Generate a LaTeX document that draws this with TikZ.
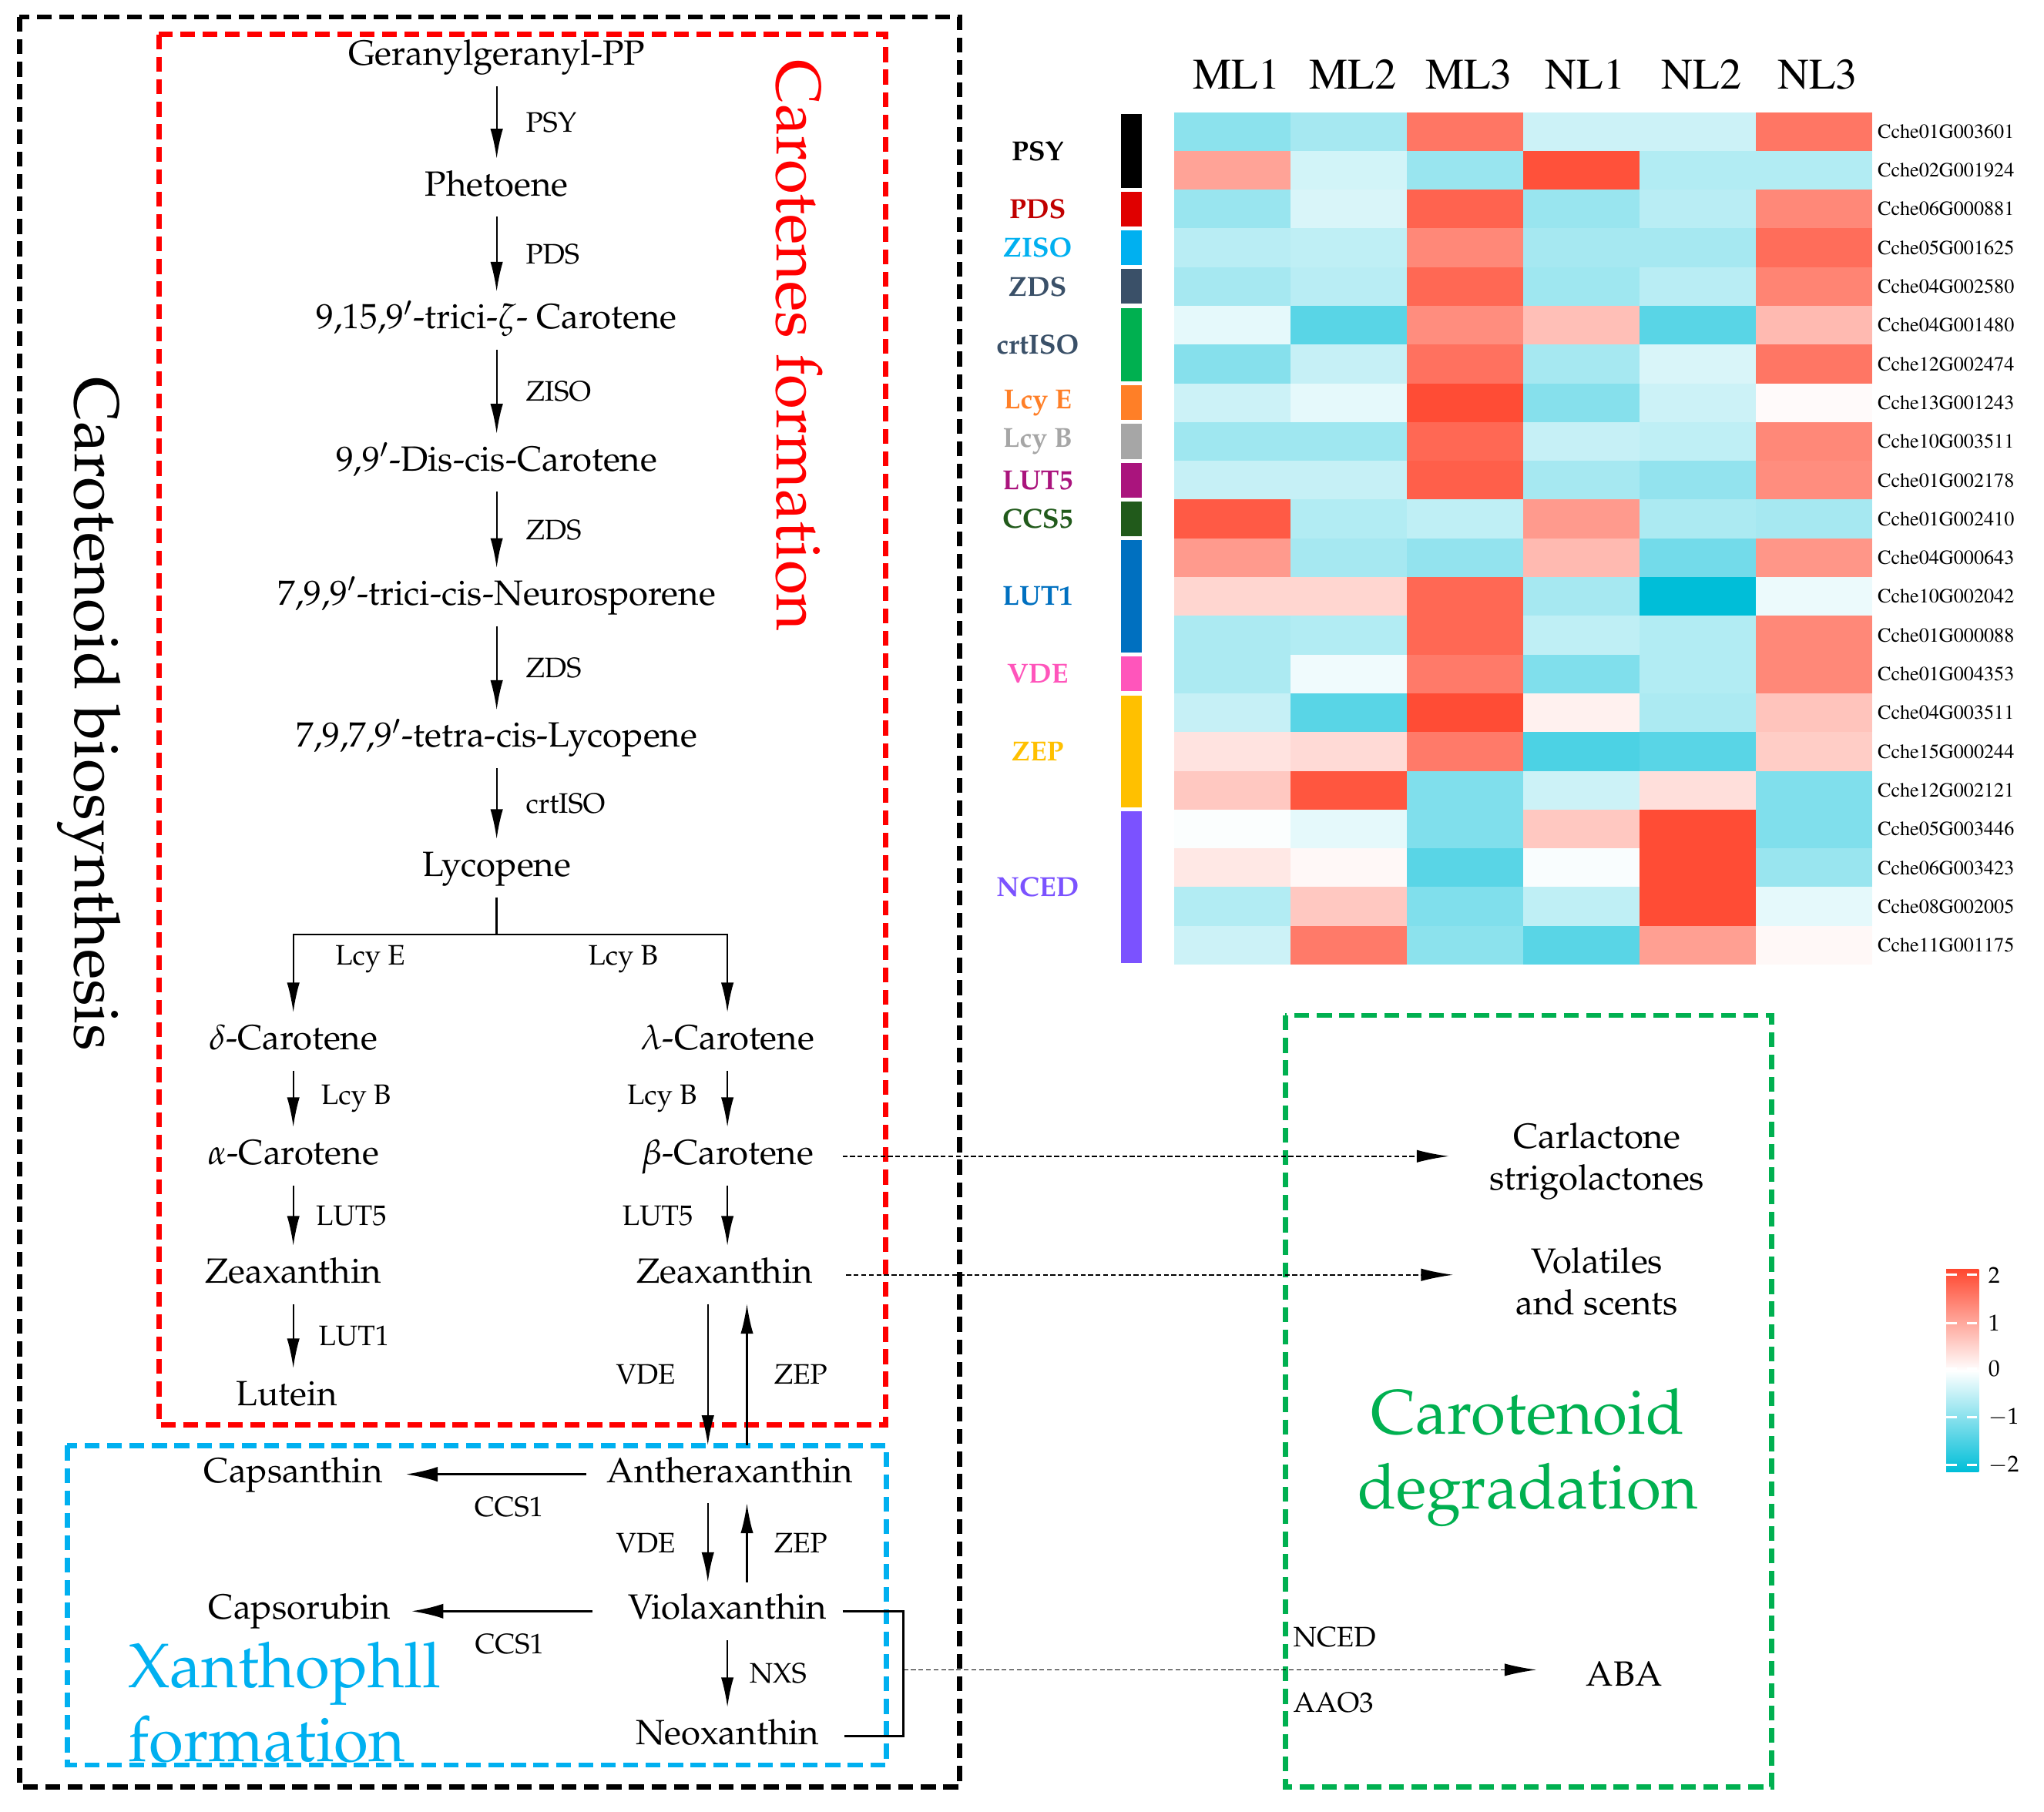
\documentclass[tikz,border=0pt]{standalone}
\usepackage[T1]{fontenc}
\usepackage{mathpazo}
\usetikzlibrary{arrows.meta,calc,positioning}

\definecolor{hmred}{RGB}{255,72,48}
\definecolor{hmcyan}{RGB}{0,190,216}
\definecolor{boxred}{RGB}{255,0,0}
\definecolor{boxcyan}{RGB}{0,176,240}
\definecolor{boxgreen}{RGB}{0,176,80}
\definecolor{pdsbar}{RGB}{224,0,0}
\definecolor{pdstxt}{RGB}{192,0,0}
\definecolor{zdsc}{RGB}{58,80,104}
\definecolor{lcyec}{RGB}{255,127,39}
\definecolor{lcybc}{RGB}{166,166,166}
\definecolor{lutfc}{RGB}{170,20,125}
\definecolor{ccsc}{RGB}{33,90,27}
\definecolor{lutoc}{RGB}{0,112,192}
\definecolor{vdec}{RGB}{255,85,187}
\definecolor{zepc}{RGB}{255,192,0}
\definecolor{ncedc}{RGB}{123,82,255}

% heatmap cell colour from a z-score
\newcommand\hmcolor[1]{%
  \pgfmathsetmacro\hmpct{min(100,abs(#1)*50)}%
  \pgfmathtruncatemacro\hmpos{(#1)>0}%
  \ifnum\hmpos=1 \colorlet{hmcur}{hmred!\hmpct!white}%
  \else \colorlet{hmcur}{hmcyan!\hmpct!white}\fi}

\begin{document}
\begin{tikzpicture}[x=0.2mm, y=-0.2mm,
  cmpd/.style={font=\fontsize{15.3}{18}\selectfont, text height=11pt, text depth=4pt, inner sep=5pt, yshift=-0.6mm},
  prod/.style={font=\fontsize{15.3}{18.2}\selectfont, align=center, inner sep=5pt},
  enz/.style={font=\fontsize{12.3}{14}\selectfont, inner sep=1pt},
  bigtitle/.style={font=\fontsize{27.5}{32.5}\selectfont, align=center},
  arr/.style={-{Latex[length=13pt,width=5.5pt]}, line width=0.75pt},
  ccsarr/.style={-{Latex[length=14pt,width=6.5pt]}, line width=1.1pt},
  dasharr/.style={-{Latex[length=14pt,width=5.5pt]}, line width=0.6pt, dash pattern=on 2.1pt off 1.2pt},
  box/.style={line width=2.3pt, dash pattern=on 6.5pt off 3.3pt},
  genelab/.style={font=\fontfamily{ptm}\fontsize{8.8}{10}\selectfont, anchor=west, inner sep=0pt},
  samplab/.style={font=\fontfamily{ptm}\fontsize{19}{22}\selectfont, inner sep=0pt},
  grplab/.style={font=\bfseries\fontsize{12}{14}\selectfont, inner sep=0pt},
  barlab/.style={font=\fontsize{10}{12}\selectfont, anchor=west, inner sep=0pt}]
  \useasboundingbox (0,0) rectangle (1568,1390);
  \def\rh{29.727}
  \def\cw{89.17}

  % Dashed frames
  \draw[box] (15,13) rectangle (736,1371);
  \draw[box, boxred] (122,26.5) rectangle (679.5,1093);
  \draw[box, boxcyan] (51.5,1109) rectangle (680,1354);
  \draw[box, boxgreen] (986,779) rectangle (1359,1371);

  % Frame titles
  \node[bigtitle, rotate=-90] (tbio) at (68,548) {Carotenoid biosynthesis};
  \node[bigtitle, rotate=-90, text=boxred] (tcar) at (613,265) {Carotenes formation};
  \node[bigtitle, text=boxgreen] (tdeg) at (1172,1118) {Carotenoid\\degradation};
  \node[bigtitle, text=boxcyan, align=left, anchor=west] (txan) at (92,1306) {Xanthophll\\formation};

  % Main chain
  \node[cmpd] (ggpp) at (381,41) {Geranylgeranyl-PP};
  \node[cmpd] (phyt) at (381,141) {Phetoene};
  \node[cmpd] (zcar) at (381,243) {9,15,9$'$-trici-$\zeta$- Carotene};
  \node[cmpd] (dcis) at (381,352) {9,9$'$-Dis-cis-Carotene};
  \node[cmpd] (neur) at (381,455) {7,9,9$'$-trici-cis-Neurosporene};
  \node[cmpd] (tlyc) at (381,564) {7,9,7,9$'$-tetra-cis-Lycopene};
  \node[cmpd] (lyco) at (381,663) {Lycopene};
  \draw[arr] (ggpp) -- node[enz,right=4mm]{PSY} (phyt);
  \draw[arr] (phyt) -- node[enz,right=4mm]{PDS} (zcar);
  \draw[arr] (zcar) -- node[enz,right=4mm]{ZISO} (dcis);
  \draw[arr] (dcis) -- node[enz,right=4mm]{ZDS} (neur);
  \draw[arr] (neur) -- node[enz,right=4mm]{ZDS} (tlyc);
  \draw[arr] (tlyc) -- node[enz,right=4mm]{crtISO} (lyco);

  % Branch point
  \node[cmpd] (dcar) at (225,796) {$\delta$-Carotene};
  \node[cmpd] (lcar) at (558,796) {$\lambda$-Carotene};
  \coordinate (fork) at (381,717);
  \draw[line width=0.85pt] (lyco) -- (fork);
  \draw[arr] (fork) -| (dcar);
  \draw[arr] (fork) -| (lcar);
  \node[enz] (lcye) at (284,736) {Lcy E};
  \node[enz] (lcyb) at (478,736) {Lcy B};

  % Left branch
  \node[cmpd] (acar) at (225,884) {$\alpha$-Carotene};
  \node[cmpd] (zea1) at (225,975) {Zeaxanthin};
  \node[cmpd] (lute) at (220,1069) {Lutein};
  \draw[arr] (dcar) -- node[enz,right=3.8mm]{Lcy B} (acar);
  \draw[arr] (acar) -- node[enz,right=3mm]{LUT5} (zea1);
  \draw[arr] (zea1) -- node[enz,right=3.4mm]{LUT1} (zea1 |- lute.north);

  % Right branch
  \node[cmpd] (bcar) at (558,884) {$\beta$-Carotene};
  \node[cmpd] (zea2) at (556,975) {Zeaxanthin};
  \draw[arr] (lcar) -- node[enz,left=4.2mm]{Lcy B} (bcar);
  \draw[arr] (bcar) -- node[enz,left=4.8mm]{LUT5} (bcar |- zea2.north);

  % Xanthophyll cycle
  \node[cmpd] (anth) at (560,1128) {Antheraxanthin};
  \node[cmpd] (caps) at (225,1128) {Capsanthin};
  \node[cmpd] (viol) at (558,1233) {Violaxanthin};
  \node[cmpd] (cpsr) at (230,1233) {Capsorubin};
  \node[cmpd] (neo) at (558,1329) {Neoxanthin};
  \draw[arr] ($(zea2.south)+(-13,0)$) -- node[enz,left=4.5mm]{VDE} ($(zea2.south |- anth.north)+(-13,0)$);
  \draw[arr] ($(zea2.south |- anth.north)+(17,0)$) -- node[enz,right=3.7mm]{ZEP} ($(zea2.south)+(17,0)$);
  \draw[arr] ($(viol.north |- anth.south)+(-15,0)$) -- node[enz,left=4.5mm]{VDE} ($(viol.north)+(-15,0)$);
  \draw[arr] ($(viol.north)+(15,0)$) -- node[enz,right=3.7mm]{ZEP} ($(viol.north |- anth.south)+(15,0)$);
  \draw[arr] (viol) -- node[enz,right=2.9mm]{NXS} (neo);
  \draw[ccsarr, shorten <=1.4mm, shorten >=1.7mm] (anth) -- node[enz,pos=0.43,below=3mm]{CCS1} (caps);
  \draw[ccsarr, shorten <=3.6mm, shorten >=1.3mm] (viol) -- node[enz,pos=0.5,below=3mm]{CCS1} (cpsr);

  % Degradation products
  \node[prod] (carl) at (1225,891) {Carlactone\\strigolactones};
  \node[prod] (vola) at (1225,983) {Volatiles\\and scents};
  \node[prod] (aba) at (1246,1284) {ABA};
  \node[enz, anchor=west] (nced) at (990,1256) {NCED};
  \node[enz, anchor=west] (aao) at (990,1306) {AAO3};
  \coordinate (brk) at (693,1281);
  \draw[line width=0.85pt] ($(viol.east)+(3,0)$) -| (brk) |- ($(neo.east)+(10,0)$);
  \draw[dasharr, shorten >=5.8mm] (brk) -- (brk -| aba.west);
  \draw[dasharr, shorten <=2.6mm, shorten >=4.4mm] (bcar.east) -- (bcar.east -| carl.west);
  \draw[dasharr, shorten <=3.3mm, shorten >=7.8mm] (zea2.east) -- (zea2.east -| vola.west);

  % Heatmap
  \foreach \s [count=\k] in {ML1,ML2,ML3,NL1,NL2,NL3}
    \node[samplab] (s\k) at ({901+\cw*(\k-0.5)+3},57) {\s};
  \foreach \gene/\va/\vb/\vc/\vd/\ve/\vf [count=\r] in {
      Cche01G003601/-0.9/-0.7/1.5/-0.4/-0.4/1.5,
      Cche02G001924/1.0/-0.35/-0.8/1.9/-0.6/-0.6,
      Cche06G000881/-0.8/-0.3/1.7/-0.8/-0.55/1.3,
      Cche05G001625/-0.55/-0.5/1.3/-0.7/-0.7/1.6,
      Cche04G002580/-0.7/-0.55/1.65/-0.75/-0.55/1.35,
      Cche04G001480/-0.2/-1.3/1.25/0.7/-1.3/0.75,
      Cche12G002474/-0.95/-0.45/1.55/-0.7/-0.3/1.5,
      Cche13G001243/-0.4/-0.2/1.95/-0.95/-0.4/0.05,
      Cche10G003511/-0.75/-0.75/1.65/-0.45/-0.5/1.3,
      Cche01G002178/-0.45/-0.45/1.75/-0.7/-0.85/1.25,
      Cche01G002410/1.8/-0.6/-0.5/1.1/-0.65/-0.7,
      Cche04G000643/1.1/-0.7/-0.85/0.75/-1.1/1.15,
      Cche10G002042/0.45/0.45/1.65/-0.7/-2.0/-0.15,
      Cche01G000088/-0.65/-0.6/1.65/-0.5/-0.6/1.3,
      Cche01G004353/-0.65/-0.12/1.45/-1.0/-0.6/1.3,
      Cche04G003511/-0.45/-1.3/1.95/0.15/-0.65/0.65,
      Cche15G000244/0.3/0.4/1.45/-1.4/-1.3/0.55,
      Cche12G002121/0.6/1.85/-1.0/-0.4/0.35/-1.0,
      Cche05G003446/-0.03/-0.2/-1.0/0.6/1.95/-1.0,
      Cche06G003423/0.25/0.08/-1.3/-0.05/1.95/-0.8,
      Cche08G002005/-0.6/0.6/-1.0/-0.5/1.95/-0.2,
      Cche11G001175/-0.4/1.45/-0.9/-1.3/1.05/0.08} {
    \pgfmathsetmacro\yt{86+\rh*(\r-1)}
    \foreach \v [count=\k] in {\va,\vb,\vc,\vd,\ve,\vf} {
      \pgfmathsetmacro\xl{901+\cw*(\k-1)}
      \hmcolor{\v}
      \fill[hmcur] (\xl,\yt) rectangle ++(\cw,\rh);
    }
    \node[genelab] (g\r) at (1440,\yt+\rh/2) {\gene};
  }

  % Gene family bars
  \foreach \grp/\rs/\nr/\bc/\tc [count=\i] in {
      PSY/1/2/black/black, PDS/3/1/pdsbar/pdstxt, ZISO/4/1/boxcyan/boxcyan,
      ZDS/5/1/zdsc/zdsc, crtISO/6/2/boxgreen/zdsc, Lcy E/8/1/lcyec/lcyec,
      Lcy B/9/1/lcybc/lcybc, LUT5/10/1/lutfc/lutfc, CCS5/11/1/ccsc/ccsc,
      LUT1/12/3/lutoc/lutoc, VDE/15/1/vdec/vdec, ZEP/16/3/zepc/zepc,
      NCED/19/4/ncedc/ncedc} {
    \fill[\bc] (860,{86+\rh*(\rs-1)+1.5}) rectangle (876,{86+\rh*(\rs-1+\nr)-1.5});
    \node[grplab, text=\tc] (grp\i) at (796,{86+\rh*(\rs-1+\nr/2)}) {\grp};
  }

  % Colour key
  \shade[top color=hmred, bottom color=white] (1493,974) rectangle (1518,1051.5);
  \shade[top color=white, bottom color=hmcyan] (1493,1051.5) rectangle (1518,1129);
  \foreach \t/\ty [count=\i] in {2/978,1/1015,0/1050,$-1$/1087,$-2$/1124} {
    \draw[white, line width=1.1pt, dash pattern=on 4.5pt off 4.5pt] (1493,\ty) -- (1518,\ty);
    \node[barlab] (cb\i) at (1525,\ty) {\t};
  }
\end{tikzpicture}
\end{document}
